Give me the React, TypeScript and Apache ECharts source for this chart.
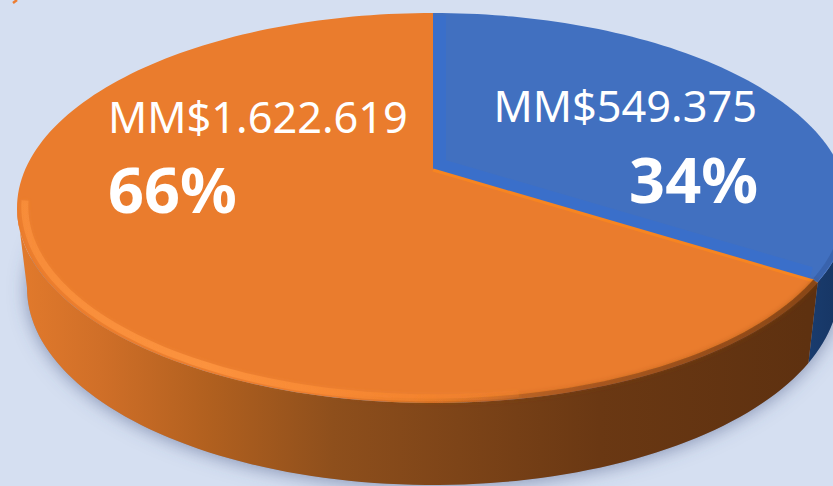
import React, { useEffect, useRef } from "react";
import * as echarts from "echarts";

const sliceNames = ["Azul", "Naranja"];
const shares = [34, 66];
const amountLabels = ["MM$549.375", "MM$1.622.619"];
const shareLabels = ["34%", "66%"];

const W = 833;
const H = 486;
const BG = "#d5dff1";
const TOP = { cx: 433, cy: 208, rx: 416, ry: 195 };
const BOTTOM = { cx: 433, cy: 288, rx: 406, ry: 197 };
const K = 0.195; // perspective shift of the pie centre
const FACE = ["#4170c0", "#ea7c2d"];
const amountPos = [
  { x: 757, y: 105, align: "right" },
  { x: 108, y: 116, align: "left" },
];
const sharePos = [
  { x: 758, y: 178, align: "right" },
  { x: 108, y: 188, align: "left" },
];

type E = { cx: number; cy: number; rx: number; ry: number };

function project(e: E, deg: number, s = 1): number[] {
  const t = (deg * Math.PI) / 180;
  const x = s * Math.sin(t);
  const y = -s * Math.cos(t);
  const d = 1 - K * y;
  return [e.cx + (e.rx * x * Math.sqrt(1 - K * K)) / d, e.cy + (e.ry * (y - K)) / d];
}

function arc(e: E, a: number, b: number, s = 1): number[][] {
  const pts: number[][] = [];
  const n = Math.max(2, Math.ceil(Math.abs(b - a) / 1.5));
  for (let i = 0; i <= n; i++) pts.push(project(e, a + ((b - a) * i) / n, s));
  return pts;
}

function sliceRange(i: number): number[] {
  const total = shares.reduce((p, c) => p + c, 0);
  let acc = 0;
  for (let j = 0; j < i; j++) acc += shares[j];
  return [(acc / total) * 360, ((acc + shares[i]) / total) * 360];
}

const hGrad = (stops: [number, string][]) => ({
  type: "linear",
  x: 0,
  y: 0,
  x2: W,
  y2: 0,
  global: true,
  colorStops: stops.map(([offset, color]) => ({ offset, color })),
});

const SIDE = [
  hGrad([
    [0.85, "#234f8e"],
    [1, "#173766"],
  ]),
  hGrad([
    [0.02, "#e27a2c"],
    [0.12, "#d06f28"],
    [0.25, "#b1601f"],
    [0.4, "#8e4f1c"],
    [0.55, "#7d4418"],
    [0.72, "#6a3813"],
    [0.97, "#5e3110"],
  ]),
];

// Angles at which the rim reaches its widest point on the right and on the left.
const TANGENT = (Math.acos(K) * 180) / Math.PI;
const RIGHT_TANGENT = 180 - TANGENT;
const LEFT_TANGENT = 180 + TANGENT;

function renderShadow() {
  return {
    type: "polygon",
    shape: { points: arc(BOTTOM, 0, 360) },
    style: {
      fill: "#8f9cbc",
      shadowBlur: 18,
      shadowColor: "rgba(70,85,130,0.55)",
      shadowOffsetX: 0,
      shadowOffsetY: 2,
    },
  };
}

function renderSide(params: any) {
  const [a, b] = sliceRange(params.dataIndex);
  const start = Math.max(a, RIGHT_TANGENT);
  const end = Math.min(b, LEFT_TANGENT);
  if (end <= start) return { type: "group", children: [] };
  const pts = [...arc(TOP, start, end), ...arc(BOTTOM, end, start)];
  return { type: "polygon", shape: { points: pts }, style: { fill: SIDE[params.dataIndex] } };
}

function renderFace(params: any) {
  const i = params.dataIndex;
  const [a, b] = sliceRange(i);
  const apex = project(TOP, 0, 0);
  const children: any[] = [
    { type: "polygon", shape: { points: [apex, ...arc(TOP, a, b)] }, style: { fill: FACE[i] } },
  ];
  if (i === 0) {
    children.push({
      type: "polyline",
      shape: { points: [project(TOP, a, 0.98), apex, project(TOP, b, 0.98)] },
      style: { fill: null, stroke: "rgba(52,110,215,0.45)", lineWidth: 26, lineJoin: "miter" },
    });
    children.push({
      type: "polyline",
      shape: { points: arc(TOP, 92, 122, 0.992) },
      style: { fill: null, stroke: "rgba(40,70,130,0.3)", lineWidth: 5 },
    });
  } else {
    children.push({
      type: "polyline",
      shape: { points: [apex, project(TOP, a, 0.99)] },
      style: { fill: null, stroke: "#f78521", lineWidth: 3 },
    });
    children.push({
      type: "polyline",
      shape: { points: arc(TOP, a, 230, 0.995) },
      style: {
        fill: null,
        stroke: hGrad([
          [0.4, "rgba(130,70,25,0)"],
          [0.7, "rgba(120,60,20,0.45)"],
          [0.98, "rgba(110,55,15,0.7)"],
        ]),
        lineWidth: 6,
        shadowBlur: 5,
        shadowColor: "rgba(120,60,20,0.6)",
      },
    });
    children.push({
      type: "polyline",
      shape: { points: arc(TOP, 170, LEFT_TANGENT + 2, 0.982) },
      style: {
        fill: null,
        stroke: hGrad([
          [0.02, "rgba(255,150,65,0.55)"],
          [0.25, "rgba(255,150,65,0.8)"],
          [0.5, "rgba(250,135,45,0.55)"],
          [0.68, "rgba(245,130,40,0)"],
        ]),
        lineWidth: 7,
        shadowBlur: 4,
        shadowColor: "rgba(255,150,65,0.4)",
      },
    });
  }
  return { type: "group", children };
}

function renderLabel(params: any) {
  const i = params.dataIndex;
  return {
    type: "group",
    children: [
      {
        type: "text",
        style: {
          text: amountLabels[i],
          x: amountPos[i].x,
          y: amountPos[i].y,
          fill: "#ffffff",
          font: '43.3px "Noto Sans"',
          align: amountPos[i].align,
          verticalAlign: "middle",
        },
      },
      {
        type: "text",
        style: {
          text: shareLabels[i],
          x: sharePos[i].x,
          y: sharePos[i].y,
          fill: "#ffffff",
          font: 'bold 63px "Noto Sans"',
          align: sharePos[i].align,
          verticalAlign: "middle",
        },
      },
    ],
  };
}

export default function App() {
  const ref = useRef<HTMLDivElement>(null);
  useEffect(() => {
    const chart = echarts.init(ref.current!, undefined, { renderer: "svg" });
    const data = shares.map((v, i) => ({ name: sliceNames[i], value: v }));
    chart.setOption({
      animation: false,
      backgroundColor: BG,
      graphic: [
        {
          type: "polyline",
          shape: { points: [[17, 0], [13, 3]] },
          style: { stroke: "#ed7d31", lineWidth: 2.5, fill: null },
        },
      ],
      series: [
        { type: "custom", coordinateSystem: "none", silent: true, data: [100], renderItem: renderShadow, z: 1 },
        { type: "custom", coordinateSystem: "none", silent: true, data, renderItem: renderSide, z: 2 },
        { type: "custom", coordinateSystem: "none", silent: true, data, renderItem: renderFace, z: 3 },
        { type: "custom", coordinateSystem: "none", silent: true, data, renderItem: renderLabel, z: 4 },
      ],
    });
    return () => chart.dispose();
  }, []);
  return <div ref={ref} style={{ position: "fixed", left: 0, top: 0, width: W, height: H }} />;
}
